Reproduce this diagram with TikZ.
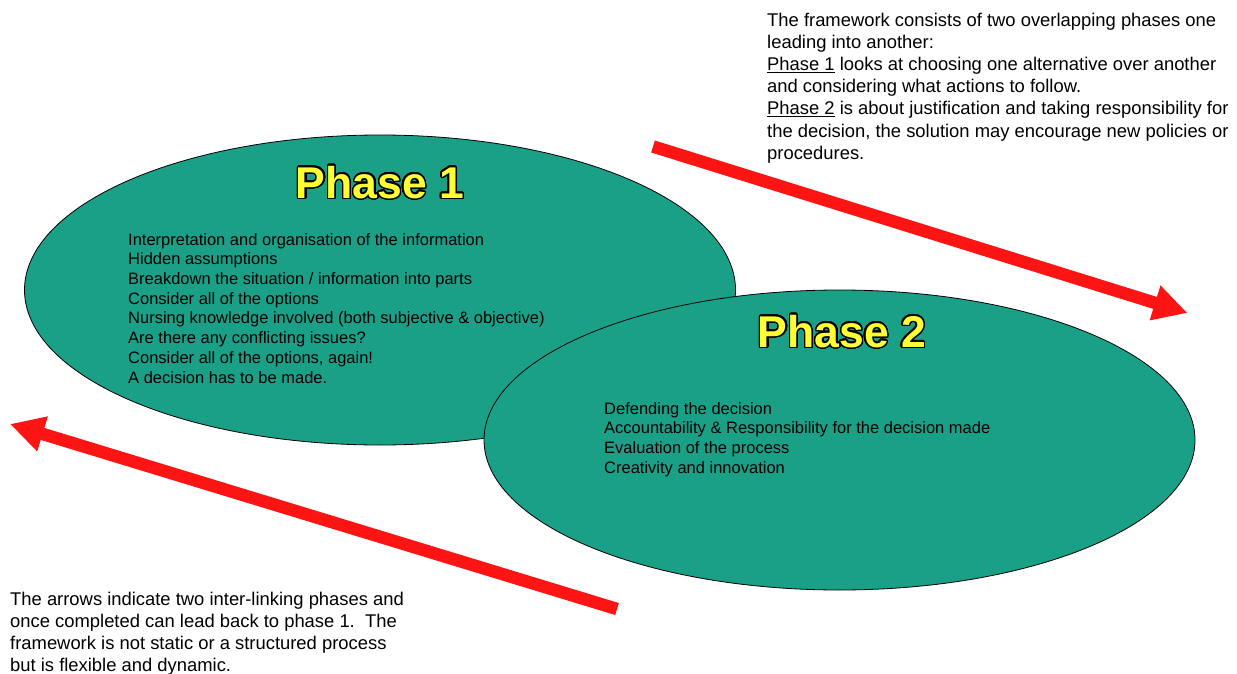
\documentclass[tikz,border=0pt]{standalone}
\usepackage{fontspec}
\setmainfont{Liberation Sans}
\usepackage[copies]{contour}
\usetikzlibrary{shapes.geometric,arrows.meta}
\definecolor{teal1}{RGB}{27,160,136}
\definecolor{arrowred}{RGB}{255,20,20}
\definecolor{titleyellow}{RGB}{255,255,51}
\contourlength{1.4pt}
\contournumber{32}
\newcommand{\phasetitle}[1]{\contour{black}{\textcolor{titleyellow}{#1}}}
\tikzset{
  phase/.style={ellipse, draw=black, line width=0.8pt, fill=teal1, inner sep=0pt},
  titletext/.style={inner sep=0pt, font=\fontsize{44.5}{44.5}\selectfont\bfseries},
  listtext/.style={anchor=north west, inner sep=0pt, align=left, text=black,
    font=\fontsize{16.5}{19.7}\selectfont},
  notetext/.style={anchor=north west, inner sep=0pt, align=left, text=black,
    font=\fontsize{18.4}{22.2}\selectfont},
  bigarrow/.style={draw=arrowred, line width=12.5pt,
    -{Triangle[length=34pt,width=34pt]}}
}
\begin{document}
\begin{tikzpicture}[x=1pt,y=-1pt]
\useasboundingbox (0,0) rectangle (1237,674);
\fill[white] (0,0) rectangle (1237,674);
% ellipses
\node[phase, minimum width=711pt, minimum height=310pt] (p1) at (380,290) {};
\node[phase, minimum width=711pt, minimum height=300pt] (p2) at (839.5,440) {};
% titles
\node[titletext] (t1) at (380,183) {\phasetitle{Phase 1}};
\node[titletext] (t2) at (842,332) {\phasetitle{Phase 2}};
% lists
\node[listtext] (l1) at (128,233) {Interpretation and organisation of the information\\
Hidden assumptions\\
Breakdown the situation / information into parts\\
Consider all of the options\\
Nursing knowledge involved (both subjective \& objective)\\
Are there any conflicting issues?\\
Consider all of the options, again!\\
A decision has to be made.};
\node[listtext] (l2) at (604,402) {Defending the decision\\
Accountability \& Responsibility for the decision made\\
Evaluation of the process\\
Creativity and innovation};
% notes
\node[notetext] (n1) at (767,12.6) {The framework consists of two overlapping phases one\\
leading into another:\\
\underline{Phase 1} looks at choosing one alternative over another\\
and considering what actions to follow.\\
\underline{Phase 2} is about justification and taking responsibility for\\
the decision, the solution may encourage new policies or\\
procedures.};
\node[notetext] (n2) at (10,591.6) {The arrows indicate two inter-linking phases and\\
once completed can lead back to phase 1.\ \ The\\
framework is not static or a structured process\\
but is flexible and dynamic.};
% arrows
\coordinate (a1s) at (653,146.5);
\coordinate (a1e) at (1187.5,313);
\coordinate (a2s) at (617,609);
\coordinate (a2e) at (10,424);
\draw[bigarrow] (a1s) -- (a1e);
\draw[bigarrow] (a2s) -- (a2e);
\end{tikzpicture}
\end{document}
